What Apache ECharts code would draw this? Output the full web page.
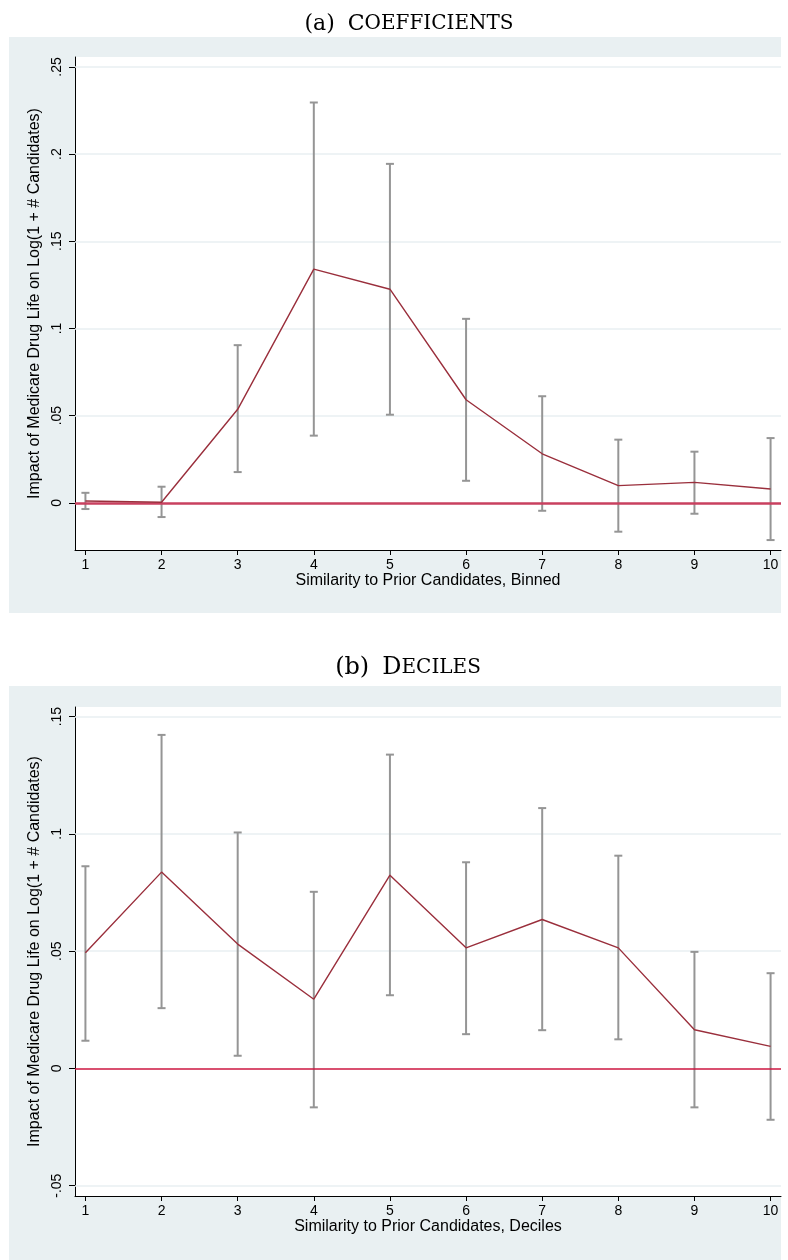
<!DOCTYPE html>
<html>
<head>
<meta charset="utf-8">
<script src="https://cdn.jsdelivr.net/npm/echarts@6/dist/echarts.min.js"></script>
<style>
html,body{margin:0;padding:0;background:#fff;}
#chart{width:788px;height:1260px;}
</style>
</head>
<body>
<div id="chart"></div>
<script>
// ---- data ----
const xValues = [1, 2, 3, 4, 5, 6, 7, 8, 9, 10];
const xTickLabels = ['1', '2', '3', '4', '5', '6', '7', '8', '9', '10'];

const coefA = [0.001, 0.0003, 0.0536, 0.134, 0.1225, 0.0591, 0.0281, 0.0098, 0.0117, 0.0079];
const lowA  = [-0.0036, -0.0082, 0.0176, 0.0385, 0.0505, 0.0126, -0.0046, -0.0166, -0.0063, -0.0214];
const highA = [0.0057, 0.0092, 0.0904, 0.2296, 0.1944, 0.1055, 0.0611, 0.0362, 0.0293, 0.0371];

const coefB = [0.0493, 0.0837, 0.053, 0.0295, 0.0824, 0.0514, 0.0635, 0.0514, 0.0165, 0.0094];
const lowB  = [0.0118, 0.0257, 0.0054, -0.0166, 0.0312, 0.0146, 0.0163, 0.0124, -0.0166, -0.0219];
const highB = [0.0862, 0.1422, 0.1006, 0.0753, 0.1338, 0.0879, 0.111, 0.0907, 0.0497, 0.0406];

const yTicksA = [0, 0.05, 0.1, 0.15, 0.2, 0.25];
const yLabelsA = ['0', '.05', '.1', '.15', '.2', '.25'];
const yTicksB = [-0.05, 0, 0.05, 0.1, 0.15];
const yLabelsB = ['-.05', '0', '.05', '.1', '.15'];

const yAxisTitle = 'Impact of Medicare Drug Life on Log(1 + # Candidates)';
const xTitleA = 'Similarity to Prior Candidates, Binned';
const xTitleB = 'Similarity to Prior Candidates, Deciles';

// ---- styles ----
const BG = '#e9f0f2';
const GRIDLINE = '#e8eff2';
const LINE = '#9a2f3c';
const ERR = '#959595';
const FONT = '"Liberation Sans", Arial, sans-serif';
const SERIF = '"DejaVu Serif", "Liberation Serif", serif';

function labelFmt(ticks, labels) {
  return function (v) {
    for (let i = 0; i < ticks.length; i++) if (Math.abs(ticks[i] - v) < 1e-9) return labels[i];
    return '';
  };
}

function errRender(params, api) {
  const x = api.value(0), lo = api.value(1), hi = api.value(2);
  const p1 = api.coord([x, lo]), p2 = api.coord([x, hi]);
  const w = 4;
  const st = { stroke: ERR, lineWidth: 2 };
  return {
    type: 'group',
    children: [
      { type: 'line', shape: { x1: p1[0], y1: p1[1], x2: p2[0], y2: p2[1] }, style: st },
      { type: 'line', shape: { x1: p1[0] - w, y1: p1[1], x2: p1[0] + w, y2: p1[1] }, style: st },
      { type: 'line', shape: { x1: p2[0] - w, y1: p2[1], x2: p2[0] + w, y2: p2[1] }, style: st }
    ]
  };
}

function xAxisDef(gridIndex, name) {
  return {
    type: 'value', gridIndex: gridIndex, min: 0.863, max: 10.137,
    name: name, nameLocation: 'middle', nameGap: 22,
    nameTextStyle: { fontFamily: FONT, fontSize: 16, color: '#000' },
    axisLine: { show: true, onZero: false, lineStyle: { color: '#000', width: 1 } },
    axisTick: { show: true, length: 5, customValues: xValues, lineStyle: { color: '#000' } },
    axisLabel: { customValues: xValues, margin: 8, fontFamily: FONT, fontSize: 14, color: '#000',
      formatter: labelFmt(xValues, xTickLabels) },
    splitLine: { show: false }
  };
}

function yAxisDef(gridIndex, min, max, ticks, labels) {
  return {
    type: 'value', gridIndex: gridIndex, min: min, max: max,
    name: yAxisTitle, nameLocation: 'middle', nameGap: 29,
    nameTextStyle: { fontFamily: FONT, fontSize: 16, color: '#000' },
    axisLine: { show: true, onZero: false, lineStyle: { color: '#000', width: 1 } },
    axisTick: { show: true, length: 6, customValues: ticks, lineStyle: { color: '#000' } },
    axisLabel: { customValues: ticks, rotate: 90, margin: 11, fontFamily: FONT, fontSize: 14, color: '#000',
      formatter: labelFmt(ticks, labels) },
    splitLine: { show: false }
  };
}

function panelSeries(idx, coef, low, high, ticks, zeroColor, zeroWidth) {
  const gridData = ticks.filter(t => t !== 0).map(t => ({ yAxis: t }));
  return [
    {
      type: 'line', xAxisIndex: idx, yAxisIndex: idx, data: [], silent: true, z: 1,
      markLine: { silent: true, symbol: 'none', label: { show: false }, z: 1, animation: false,
        lineStyle: { color: GRIDLINE, width: 1.5, type: 'solid' }, data: gridData }
    },
    {
      type: 'custom', xAxisIndex: idx, yAxisIndex: idx, renderItem: errRender,
      data: xValues.map((x, i) => [x, low[i], high[i]]), z: 2, silent: true
    },
    {
      type: 'line', xAxisIndex: idx, yAxisIndex: idx, data: [], silent: true, z: 3,
      markLine: { silent: true, symbol: 'none', label: { show: false }, z: 3, animation: false,
        lineStyle: { color: zeroColor, width: zeroWidth, type: 'solid' }, data: [{ yAxis: 0 }] }
    },
    {
      type: 'line', xAxisIndex: idx, yAxisIndex: idx,
      data: xValues.map((x, i) => [x, coef[i]]),
      symbol: 'none', lineStyle: { color: LINE, width: 1.4 }, z: 10, silent: true
    }
  ];
}

const chart = echarts.init(document.getElementById('chart'), null, { renderer: 'canvas' });

function titleRich(cap, small) {
  return {
    p: { fontFamily: SERIF, fontSize: cap, fontWeight: 'normal', color: '#000', padding: [0, 13, 0, 0] },
    c: { fontFamily: SERIF, fontSize: cap, fontWeight: 'normal', color: '#000' },
    s: { fontFamily: SERIF, fontSize: small, fontWeight: 'normal', color: '#000' }
  };
}

chart.setOption({
  animation: false,
  backgroundColor: '#fff',
  graphic: [
    { type: 'rect', shape: { x: 9, y: 37, width: 772, height: 576 }, style: { fill: BG }, z: -10, silent: true },
    { type: 'rect', shape: { x: 9, y: 686, width: 772, height: 574 }, style: { fill: BG }, z: -10, silent: true }
  ],
  title: [
    { text: '{p|(a)}{c|C}{s|OEFFICIENTS}', left: 404, top: 8, textAlign: 'center',
      textStyle: { fontWeight: 'normal', rich: titleRich(22, 20) } },
    { text: '{p|(b)}{c|D}{s|ECILES}', left: 403, top: 651, textAlign: 'center',
      textStyle: { fontWeight: 'normal', rich: titleRich(24, 20) } }
  ],
  grid: [
    { left: 75, top: 57, width: 706, height: 493, show: true, backgroundColor: '#fff', borderWidth: 0 },
    { left: 75, top: 707, width: 706, height: 489, show: true, backgroundColor: '#fff', borderWidth: 0 }
  ],
  xAxis: [xAxisDef(0, xTitleA), xAxisDef(1, xTitleB)],
  yAxis: [
    yAxisDef(0, -0.0271, 0.2557, yTicksA, yLabelsA),
    yAxisDef(1, -0.0544, 0.1541, yTicksB, yLabelsB)
  ],
  series: [].concat(
    panelSeries(0, coefA, lowA, highA, yTicksA, '#c9405f', 2.5),
    panelSeries(1, coefB, lowB, highB, yTicksB, '#cc1640', 1.6)
  )
});
</script>
</body>
</html>
